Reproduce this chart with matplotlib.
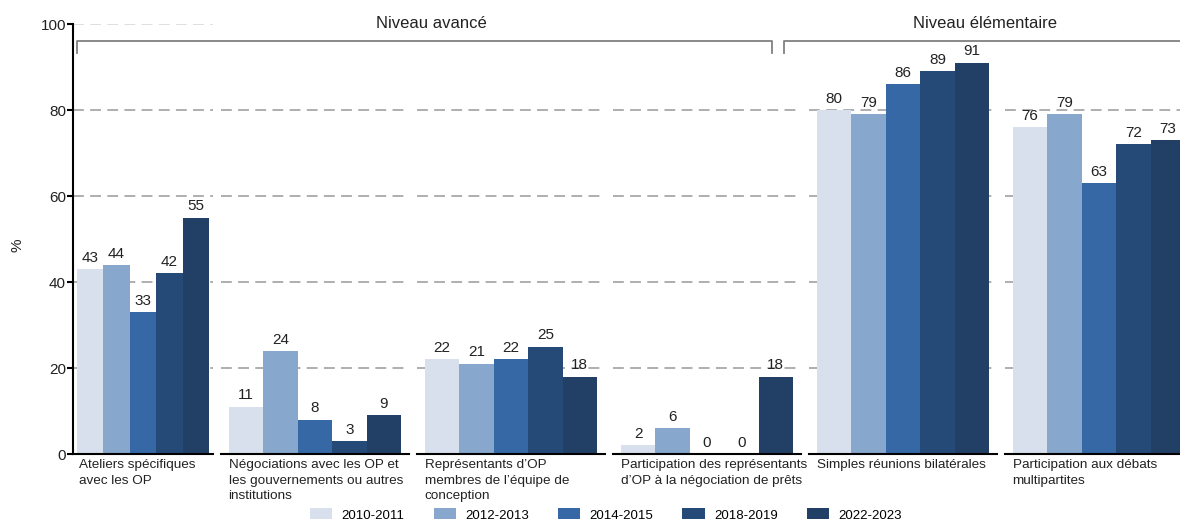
import numpy as np
import matplotlib.pyplot as plt
from matplotlib.lines import Line2D
from matplotlib.patches import Patch

plt.rcParams['font.family'] = ['Liberation Sans', 'DejaVu Sans']

categories = [
    "Ateliers spécifiques\navec les OP",
    "Négociations avec les OP et\nles gouvernements ou autres\ninstitutions",
    "Représentants d’OP\nmembres de l’équipe de\nconception",
    "Participation des représentants\nd’OP à la négociation de prêts",
    "Simples réunions bilatérales",
    "Participation aux débats\nmultipartites",
]
periods = ["2010-2011", "2012-2013", "2014-2015", "2018-2019", "2022-2023"]
colors = ["#d7e0ec", "#87a7cc", "#3568a5", "#264a78", "#223f66"]

# one row per category, one column per period
values = [
    [43, 44, 33, 42, 55],
    [11, 24, 8, 3, 9],
    [22, 21, 22, 25, 18],
    [2, 6, 0, 0, 18],
    [80, 79, 86, 89, 91],
    [76, 79, 63, 72, 73],
]
groups = ["Niveau avancé", "Niveau élémentaire"]

W, H = 1180, 520
fig = plt.figure(figsize=(W / 100, H / 100), dpi=100)

# facet panels in pixel units (left, width); the first one is narrower
panels = [(73, 140)] + [(221 + i * 196, 188) for i in range(5)]
bottom_px, top_px = 454, 24
x = np.arange(len(periods))

axes = []
for i, (left, width) in enumerate(panels):
    ax = fig.add_axes([left / W, 1 - bottom_px / H, width / W, (bottom_px - top_px) / H])
    pad = 0.15 if i == 0 else 0.23
    ax.bar(x, values[i], width=1.0, color=colors, linewidth=0, zorder=2)
    for xi, v in zip(x, values[i]):
        ax.text(xi, v + 1.0, str(v), ha='center', va='bottom', fontsize=11, color='#222222')
    ax.set_xlim(-0.5 - pad, 4.5 + pad)
    ax.set_ylim(0, 100)
    for yv in [20, 40, 60, 80]:
        ax.axhline(yv, color='#a8a8a8', lw=1.3, ls=(0, (6, 3.5)), zorder=1)
    for s in ['top', 'right']:
        ax.spines[s].set_visible(False)
    ax.spines['bottom'].set_linewidth(1.5)
    ax.set_xticks([])
    ax.text(0.04, -0.012, categories[i], transform=ax.transAxes,
            ha='left', va='top', fontsize=9.7, color='#222222', linespacing=1.4)
    if i == 0:
        ax.axhline(100, color='#dcdcdc', lw=1.3, ls=(0, (6, 3.5)), zorder=1)
        ax.spines['left'].set_linewidth(1.5)
        ax.set_yticks([0, 20, 40, 60, 80, 100])
        ax.tick_params(axis='y', length=4, width=1.5, labelsize=11, pad=1, colors='black',
                       labelcolor='#222222')
    else:
        ax.spines['left'].set_visible(False)
        ax.set_yticks([])
    axes.append(ax)

fig.text(18 / W, 1 - 245 / H, '%', rotation=90, ha='center', va='center', fontsize=11,
         color='#222222')


def bracket(x0, x1, label, lx):
    ytop, ybot = 1 - 41 / H, 1 - 53 / H
    xs = [x0 / W, x0 / W, x1 / W, x1 / W]
    ys = [ybot, ytop, ytop, ybot]
    fig.add_artist(Line2D(xs, ys, transform=fig.transFigure, color='#808080',
                          lw=1.3, solid_joinstyle='round'))
    fig.text(lx / W, 1 - 23 / H, label, ha='center', va='center', fontsize=12,
             color='#222222')


bracket(77, 772, groups[0], 431)
bracket(784, 1200, groups[1], 985)

handles = [Patch(facecolor=c, edgecolor='none') for c in colors]
fig.legend(handles, periods, loc='center', bbox_to_anchor=(606 / W, 1 - 515 / H),
           ncol=5, frameon=False, fontsize=9.5, handlelength=1.7, handleheight=0.9,
           columnspacing=2.2, handletextpad=0.7)

fig.savefig('out.png', dpi=100, facecolor='white')
